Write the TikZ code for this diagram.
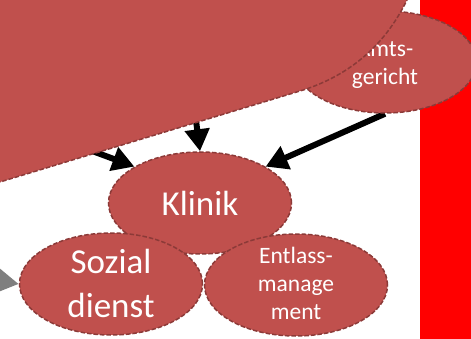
\documentclass[tikz,border=0pt]{standalone}
\usepackage{fontspec}
\setmainfont{Carlito}
\usetikzlibrary{arrows.meta,shapes.geometric,backgrounds}
\definecolor{nodefill}{RGB}{192,80,77}
\definecolor{nodeline}{RGB}{140,58,56}
\definecolor{barred}{RGB}{255,0,0}
\definecolor{arrowgray}{RGB}{127,127,127}
\begin{document}
\begin{tikzpicture}[x=1pt,y=-1pt,
  outlined/.style={draw=nodeline, fill=nodefill, line width=1.5pt, dash pattern=on 4.5pt off 2pt},
  bubble/.style={outlined, ellipse, minimum width=183pt, minimum height=102pt, inner sep=0pt},
  bigtext/.style={text=white, font=\fontsize{35}{44}\selectfont, align=center, inner sep=0pt},
  smalltext/.style={text=white, font=\fontsize{23.5}{28}\selectfont, align=center, inner sep=0pt},
  flow/.style={line width=6pt, -{Triangle[length=22pt,width=24pt]}},
]
\useasboundingbox (0,0) rectangle (471,339);
\clip (0,0) rectangle (471,339);

% Amtsgericht (partly hidden)
\node[bubble] (amts) at (385,62) {};
\node[smalltext] (amtstext) at (385,64.5) {Amts-\\gericht};

% large shape at the top left
\draw[outlined] (-60,200.2) -- (300,91) .. controls (368,70.4) and (395,24) .. (407,0)
  -- (415,-16) -- (415,-60) -- (-60,-60) -- cycle;
\coordinate (bigA) at (41,132);
\coordinate (bigB) at (188,59);

% lower nodes
\node[bubble] (klinik) at (200,203) {};
\node[bigtext] (klinitext) at (200,203) {Klinik};
\node[bubble] (soz) at (111,284) {};
\node[bigtext] (soztext) at (111,283) {Sozial\\dienst};
\node[bubble] (entl) at (296,285) {};
\node[smalltext] (entltext) at (296,283.5) {Entlass-\\manage\\ment};

\coordinate (grayfrom) at (-60,271.5);

\begin{scope}[on background layer]
  \fill[barred] (420,-10) rectangle (480,350);
  \draw[flow] (amts.south) -- (klinik.29);
  \draw[flow] (bigB) -- (klinik.north);
  \draw[flow] (bigA) -- (klinik.151);
  \draw[flow, arrowgray] (grayfrom) -- (soz.west);
\end{scope}
\end{tikzpicture}
\end{document}
